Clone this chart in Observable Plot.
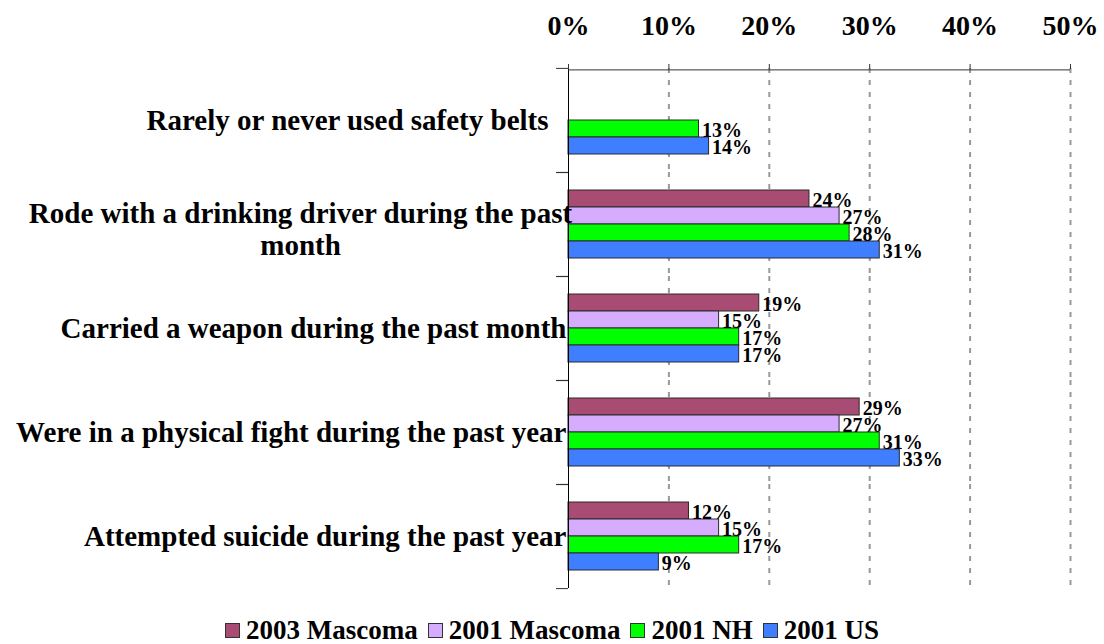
<!DOCTYPE html>
<html><head><meta charset="utf-8">
<script src="https://cdn.jsdelivr.net/npm/d3@7"></script>
<script src="https://cdn.jsdelivr.net/npm/@observablehq/plot@0.6"></script>
<style>
body{margin:0;background:#fff;font-family:"Liberation Serif",serif;}
#legend{display:flex;justify-content:center;align-items:center;margin-top:10px;font-weight:bold;font-size:27px;line-height:30px;color:#000;}
.item{display:flex;align-items:center;margin:0 5px;}
.sw{width:13px;height:13px;border:1.5px solid #333;margin-right:6px;}
</style></head><body><div id="chart"></div><div id="legend"></div>
<script>
const categories = [
  "Rarely or never used safety belts",
  "Rode with a drinking driver during the past month",
  "Carried a weapon during the past month",
  "Were in a physical fight during the past year",
  "Attempted suicide during the past year"
];
const series = ["2003 Mascoma", "2001 Mascoma", "2001 NH", "2001 US"];
const colors = ["#A84C74", "#D6ACFF", "#00FF00", "#3F7FFF"];
const mascoma2003 = [null, 24, 19, 29, 12];
const mascoma2001 = [null, 27, 15, 27, 15];
const nh2001 = [13, 28, 17, 31, 17];
const us2001 = [14, 31, 17, 33, 9];
const xTicks = [0, 10, 20, 30, 40, 50];

const seriesValues = [mascoma2003, mascoma2001, nh2001, us2001];
const data = [];
categories.forEach((c, i) => {
  seriesValues.forEach((arr, j) => {
    if (arr[i] != null) data.push({category: c, series: series[j], value: arr[i]});
  });
});

const W = 1104, H = 605, mt = 67, mb = 17, ml = 568, mr = 34;
const facetH = (H - mt - mb) / categories.length;
const FF = "Liberation Serif";

const lab = categories.map(c => ({category: c}));
const std = lab.filter((d, i) => i >= 2);

const chart = Plot.plot({
  width: W, height: H, marginTop: mt, marginBottom: mb, marginLeft: ml, marginRight: mr,
  style: {fontFamily: FF, background: "white", overflow: "visible"},
  x: {domain: [0, 50]},
  y: {domain: series, paddingInner: 0, paddingOuter: 0.894, axis: null},
  fy: {domain: categories, padding: 0, axis: null},
  color: {domain: series, range: colors},
  marks: [
    Plot.gridX({ticks: xTicks.slice(1), stroke: "#999", strokeOpacity: 1, strokeWidth: 2, strokeDasharray: "5,7"}),
    Plot.barX(data, {x: "value", y: "series", fy: "category", fill: "series", stroke: "#2a2a2a", strokeWidth: 1}),
    Plot.text(data, {x: "value", y: "series", fy: "category", text: d => d.value + "%", textAnchor: "start", dx: 3, dy: 2,
      fontSize: 20, fontWeight: "bold", fontFamily: FF, fill: "#000"}),
    Plot.ruleX([0], {stroke: "#000", strokeWidth: 1}),
    Plot.ruleY([{category: categories[0], series: series[0]}], {y: "series", fy: "category", stroke: "#333",
      dy: -(0.894 * facetH / 5.788 + facetH / 5.788 / 2)}),
    Plot.axisFy({anchor: "left", tickSize: 12, tickFormat: () => "", dy: -facetH / 2, stroke: "#333", label: null}),
    Plot.axisFy({anchor: "left", tickSize: 12, tickFormat: () => "", dy: facetH / 2, stroke: "#333", label: null}),
    Plot.axisX({anchor: "top", ticks: xTicks, tickFormat: d => d + "%", tickSize: 5, tickPadding: 29,
      fontSize: 28, fontWeight: "bold", fontFamily: FF, stroke: "#333", fill: "#000", label: null}),
    Plot.text(std, {fy: "category", text: "category", frameAnchor: "left", textAnchor: "end", dx: -2,
      fontSize: 29, fontWeight: "bold", fontFamily: FF, fill: "#000"}),
    Plot.text([lab[0]], {fy: "category", text: "category", frameAnchor: "left", textAnchor: "end", dx: -20,
      fontSize: 29, fontWeight: "bold", fontFamily: FF, fill: "#000"}),
    Plot.text([lab[1]], {fy: "category", text: () => "Rode with a drinking driver during the past\nmonth",
      frameAnchor: "left", textAnchor: "middle", dx: -268, dy: 4, lineHeight: 1.1,
      fontSize: 29, fontWeight: "bold", fontFamily: FF, fill: "#000"})
  ]
});
document.getElementById("chart").appendChild(chart);

const legend = document.getElementById("legend");
series.forEach((s, i) => {
  const it = document.createElement("div");
  it.className = "item";
  const sw = document.createElement("div");
  sw.className = "sw";
  sw.style.background = colors[i];
  it.appendChild(sw);
  const t = document.createElement("span");
  t.textContent = s;
  it.appendChild(t);
  legend.appendChild(it);
});
</script></body></html>
